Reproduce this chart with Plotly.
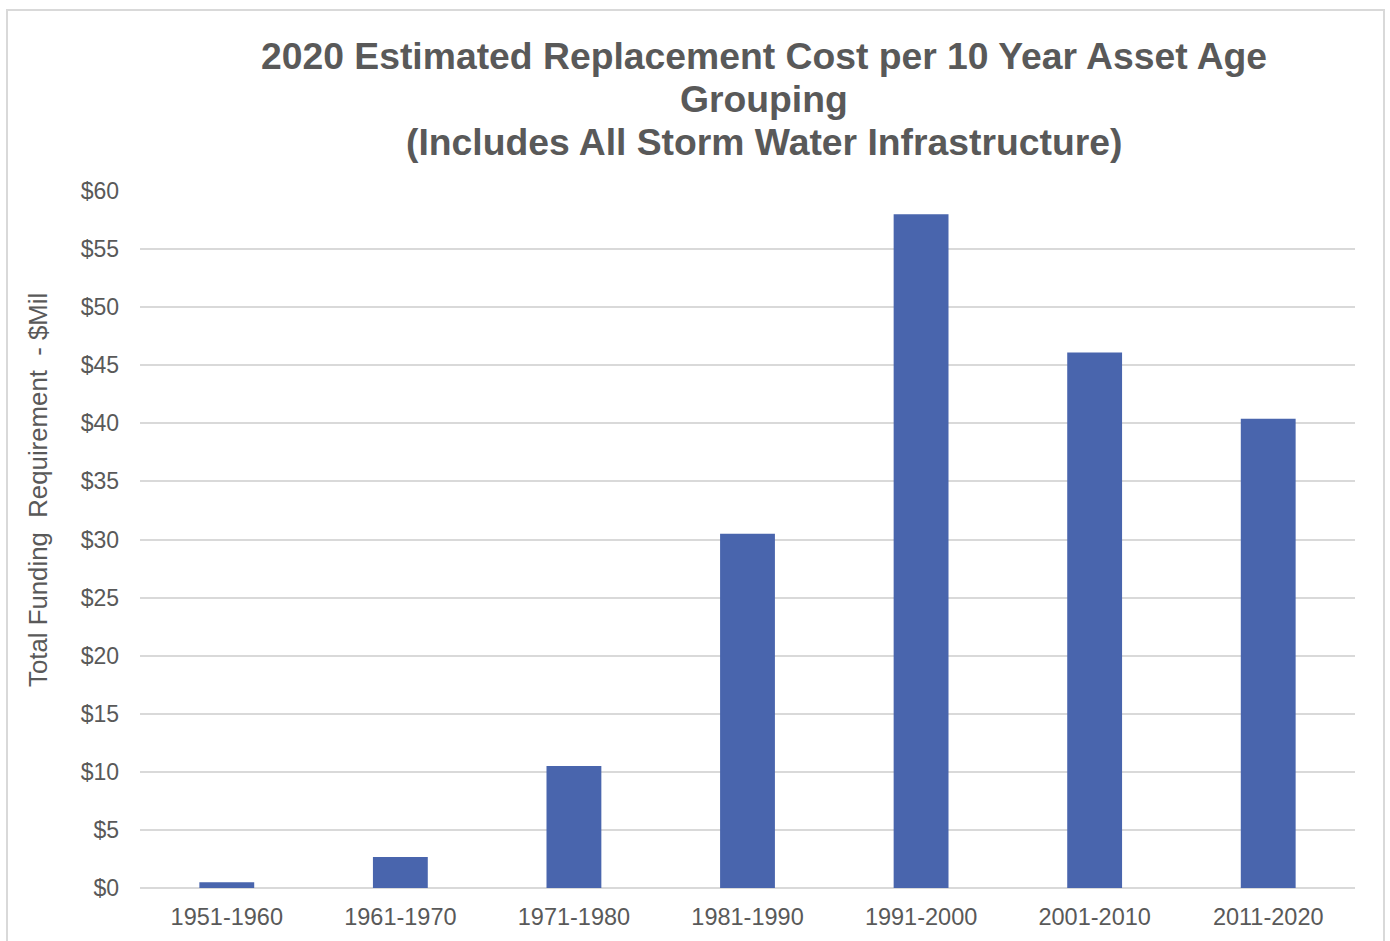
import plotly.graph_objects as go

# Data
age_groups = ["1951-1960", "1961-1970", "1971-1980", "1981-1990",
              "1991-2000", "2001-2010", "2011-2020"]
cost_mil = [0.5, 2.67, 10.5, 30.5, 58.0, 46.1, 40.4]
y_ticks = list(range(0, 61, 5))
y_tick_text = [f"${v}" for v in y_ticks]
title_lines = [
    "2020 Estimated Replacement Cost per 10 Year Asset Age",
    "Grouping",
    "(Includes All Storm Water Infrastructure)",
]
y_title = "Total Funding  Requirement  - $Mil"

W, H = 1390, 941
ML, MR, MT, MB = 140, 35, 191, 53
TEXT = "#595959"
GRID = "#d9d9d9"
FONT = "Liberation Sans, Arial, sans-serif"

fig = go.Figure(go.Bar(
    x=age_groups,
    y=cost_mil,
    marker=dict(color="#4965AD", line=dict(width=0)),
))

pw = W - ML - MR
ph = H - MT - MB


def px_x(p):
    return (p - ML) / pw


def px_y(p):
    return (H - MB - p) / ph


# Title, one annotation per line for tight line spacing
annotations = []
for i, line in enumerate(title_lines):
    annotations.append(dict(
        text=line, xref="paper", yref="paper",
        x=px_x(764), y=px_y(56 + 43 * i),
        xanchor="center", yanchor="middle", showarrow=False,
        font=dict(family=FONT, size=37.3, color=TEXT, weight="bold"),
    ))

# Vertical axis title
annotations.append(dict(
    text=y_title, xref="paper", yref="paper",
    x=px_x(38), y=px_y(490), textangle=-90,
    xanchor="center", yanchor="middle", showarrow=False,
    font=dict(family=FONT, size=25.8, color=TEXT),
))

fig.update_layout(
    width=W, height=H,
    margin=dict(l=ML, r=MR, t=MT, b=MB),
    paper_bgcolor="white", plot_bgcolor="white",
    font=dict(family=FONT, color=TEXT, size=23),
    bargap=0.684,
    showlegend=False,
    annotations=annotations,
    xaxis=dict(
        showgrid=False, showline=False, zeroline=False,
        ticks="", tickfont=dict(size=23.5, color=TEXT),
        ticklabelstandoff=12,
    ),
    yaxis=dict(
        range=[0, 60], tickvals=y_ticks, ticktext=y_tick_text,
        showgrid=True, gridcolor=GRID, gridwidth=1.5,
        zeroline=True, zerolinecolor=GRID, zerolinewidth=1.5,
        showline=False, ticks="",
        tickfont=dict(size=23, color=TEXT),
        ticklabelstandoff=20,
    ),
    shapes=[dict(
        type="rect", xref="paper", yref="paper",
        x0=px_x(7), x1=px_x(1384), y0=px_y(960), y1=px_y(10),
        line=dict(color=GRID, width=2), fillcolor="rgba(0,0,0,0)",
        layer="below",
    )],
)

fig.write_html("out.html")
